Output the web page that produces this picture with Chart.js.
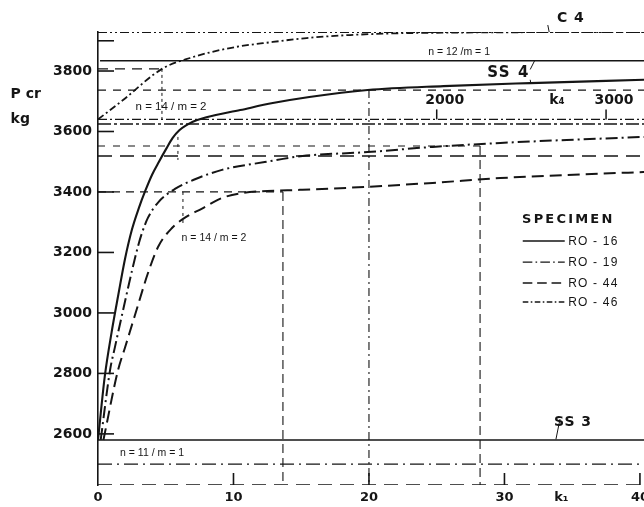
<!DOCTYPE html>
<html>
<head>
<meta charset="utf-8">
<script src="https://cdn.jsdelivr.net/npm/chart.js@4.4.1/dist/chart.umd.min.js"></script>
<style>
  html, body { margin: 0; padding: 0; background: #fff; }
  #wrap { position: relative; width: 644px; height: 507px; }
</style>
</head>
<body>
<div id="wrap"><canvas id="pcr"></canvas></div>
<script>
// axis ranges (k4 rides on the same line as k1, k4 = 80 * k1)
const K1_MAX = 40.3;
const K4_PER_K1 = 80;
const P_MIN = 2431;
const P_MAX = 3929;

// specimen curves, k1 vs Pcr (kg)
const ro16K = [0, 0.5, 1.0, 1.5, 2.0, 2.5, 3.0, 3.5, 4.0, 4.5, 5.0, 5.5, 6.0, 6.5, 7.0, 8.0, 10.5, 12.9, 15.6, 19.9, 25.5, 31.9, 40.3];
const ro16P = [2580, 2790, 2935, 3060, 3180, 3275, 3345, 3405, 3458, 3500, 3540, 3578, 3604, 3620, 3632, 3647, 3671, 3694, 3714, 3737, 3750, 3760, 3771];

const ro19K = [0.2, 0.89, 1.25, 1.77, 2.51, 2.95, 3.25, 3.69, 4.43, 5.68, 7.16, 9.15, 12.3, 15.1, 19.9, 24.7, 29.7, 34.6, 40.3];
const ro19P = [2580, 2811, 2887, 2993, 3140, 3220, 3265, 3315, 3365, 3410, 3442, 3473, 3499, 3519, 3532, 3549, 3562, 3572, 3582];

const ro44K = [0.4, 1.48, 1.99, 2.73, 3.69, 4.43, 5.46, 6.42, 7.68, 9.15, 10.7, 12.5, 14.9, 19.9, 24.7, 29.7, 34.6, 40.3];
const ro44P = [2580, 2811, 2885, 2993, 3132, 3218, 3281, 3315, 3345, 3380, 3397, 3403, 3407, 3417, 3430, 3446, 3456, 3466];

const ro46K = [0, 1.85, 4.72, 6.79, 9.74, 12.9, 15.4, 18.6, 23.8, 40.3];
const ro46P = [3640, 3704, 3807, 3843, 3876, 3896, 3909, 3919, 3926, 3929];

const specimenNames = ['RO - 16', 'RO - 19', 'RO - 44', 'RO - 46'];

// horizontal construction lines: level and k1 extent
const hLineP    = [3929, 3834, 3807, 3737, 3640, 3625, 3552, 3519, 3400, 2580, 2500, 2431];
const hLineFrom = [0, 0.15, 0, 0, 0, 0, 0, 0, 0, 0, 0, 0];
const hLineTo   = [K1_MAX, K1_MAX, 4.72, K1_MAX, K1_MAX, K1_MAX, 28.2, K1_MAX, 13.65, K1_MAX, K1_MAX, K1_MAX];

// vertical construction lines
const vLineK   = [4.72, 5.9, 6.27, 13.65, 20.0, 28.2];
const vLineTop = [3807, 3582, 3400, 3400, 3737, 3552];
const vLineBot = [3640, 3506, 3297, P_MIN, P_MIN, P_MIN];

// ticks
const yLabelVals = [2600, 2800, 3000, 3200, 3400, 3600, 3800];
const yMarkVals = [2600, 2800, 3000, 3200, 3400, 3600, 3800, 3900];
const xLabelVals = [0, 10, 20, 30, 40];
const K1_TITLE_AT = 34.2;
const k4LabelVals = [2000, 3000];
const K4_TITLE_AT = 2710;
const K4_LINE_P = 3640;

const INK = '#151515';

// line styles (kept apart from the values)
const curveStyle = [
  { w: 2.1, dash: [] },
  { w: 2.0, dash: [12, 4, 2, 4] },
  { w: 2.0, dash: [12, 6] },
  { w: 1.8, dash: [7, 3, 2, 3] }
];
const hLineStyle = [
  { w: 1.8, dash: [9, 3, 2, 3, 2, 3] },
  { w: 1.4, dash: [] },
  { w: 1.3, dash: [10, 7] },
  { w: 1.2, dash: [8, 7] },
  { w: 1.3, dash: [9, 3, 2, 3] },
  { w: 1.6, dash: [13, 3, 3, 3] },
  { w: 1.2, dash: [7, 8] },
  { w: 1.6, dash: [14, 8] },
  { w: 1.2, dash: [8, 6] },
  { w: 1.4, dash: [] },
  { w: 1.3, dash: [14, 5, 2, 5] },
  { w: 1.4, dash: [14, 8] }
];
const vLineStyle = [
  { w: 1.0, dash: [3, 3] },
  { w: 1.0, dash: [3, 4] },
  { w: 1.0, dash: [3, 4] },
  { w: 1.1, dash: [9, 5] },
  { w: 1.1, dash: [8, 4, 2, 4] },
  { w: 1.1, dash: [9, 5] }
];

function trace(ks, ps, st, smooth) {
  return {
    data: ks.map((k, i) => ({ x: k, y: ps[i] })),
    borderColor: INK,
    borderWidth: st.w,
    borderDash: st.dash,
    borderCapStyle: 'butt',
    pointRadius: 0,
    showLine: true,
    fill: false,
    cubicInterpolationMode: smooth ? 'monotone' : 'default',
    tension: 0
  };
}

const datasets = [];
hLineP.forEach((p, i) => datasets.push(trace([hLineFrom[i], hLineTo[i]], [p, p], hLineStyle[i], false)));
vLineK.forEach((k, i) => datasets.push(trace([k, k], [vLineTop[i], vLineBot[i]], vLineStyle[i], false)));
const curves = [[ro16K, ro16P], [ro19K, ro19P], [ro44K, ro44P], [ro46K, ro46P]];
curves.forEach((c, i) => datasets.push(trace(c[0], c[1], curveStyle[i], true)));

// text placed in chart units
const notes = [
  { t: 'P cr', k: -6.45, p: 3724, font: 'bold 14px "DejaVu Sans"', align: 'left' },
  { t: 'kg', k: -6.45, p: 3641, font: 'bold 14px "DejaVu Sans"', align: 'left' },
  { t: 'C 4', k: 34.9, p: 3975, font: 'bold 14px "DejaVu Sans"', sp: 1 },
  { t: 'n = 12 /m = 1', k: 26.65, p: 3863, font: '10.5px "Liberation Sans"' },
  { t: 'SS 4', k: 30.3, p: 3793, font: 'bold 15px "DejaVu Sans"', sp: 1.5 },
  { t: 'n = 14 / m = 2', k: 5.39, p: 3681, font: '11.5px "Liberation Sans"' },
  { t: 'n = 14 / m = 2', k: 8.56, p: 3248, font: '10.5px "Liberation Sans"' },
  { t: 'n = 11 / m = 1', k: 3.99, p: 2537, font: '10.5px "Liberation Sans"' },
  { t: 'SS 3', k: 35.06, p: 2639, font: 'bold 14px "DejaVu Sans"', sp: 1 },
  { t: 'SPECIMEN', k: 31.3, p: 3307, font: 'bold 13px "DejaVu Sans"', align: 'left', sp: 2.2 }
];
const legendP = [3238, 3168, 3099, 3036];
const LEGEND_LINE_FROM = 31.35;
const LEGEND_LINE_TO = 34.45;
const LEGEND_TEXT_AT = 34.7;

// little leader strokes [k1, p, k1, p]
const leaders = [
  [31.9, 3805, 32.25, 3836],
  [31.9, 3771, 31.95, 3759],
  [34.1, 2649, 33.8, 2582],
  [33.2, 3952, 33.3, 3929]
];

function seg(ctx, x1, y1, x2, y2) {
  ctx.beginPath();
  ctx.moveTo(x1, y1);
  ctx.lineTo(x2, y2);
  ctx.stroke();
}

const overlay = {
  id: 'overlay',
  afterDatasetsDraw(chart) {
    const { ctx, chartArea: a } = chart;
    const x = chart.scales.x, y = chart.scales.y, k4 = chart.scales.k4;
    ctx.save();
    ctx.strokeStyle = INK;
    ctx.fillStyle = INK;
    ctx.setLineDash([]);

    // inward ticks on the Pcr axis
    ctx.lineWidth = 1.6;
    yMarkVals.forEach(v => {
      const py = y.getPixelForValue(v);
      seg(ctx, a.left, py, a.left + 16, py);
    });
    // upward ticks on k1
    xLabelVals.slice(1).forEach(v => {
      const px = x.getPixelForValue(v);
      seg(ctx, px, a.bottom, px, a.bottom - 12);
    });

    // k4 scale on the dash-dot line
    const pk = y.getPixelForValue(K4_LINE_P);
    ctx.font = 'bold 14px "DejaVu Sans"';
    ctx.textAlign = 'center';
    ctx.textBaseline = 'middle';
    k4LabelVals.forEach(v => {
      const px = k4.getPixelForValue(v);
      ctx.lineWidth = 1.5;
      seg(ctx, px, pk, px, pk - 10);
      ctx.fillText(String(v), px + 8, pk - 19);
    });
    ctx.fillText('k\u2084', k4.getPixelForValue(K4_TITLE_AT), pk - 19);

    // notes
    notes.forEach(n => {
      ctx.font = n.font;
      ctx.letterSpacing = (n.sp || 0) + 'px';
      ctx.textAlign = n.align || 'center';
      ctx.fillText(n.t, x.getPixelForValue(n.k), y.getPixelForValue(n.p));
    });
    ctx.letterSpacing = '0px';

    // leaders
    ctx.lineWidth = 1;
    leaders.forEach(l => seg(ctx, x.getPixelForValue(l[0]), y.getPixelForValue(l[1]),
      x.getPixelForValue(l[2]), y.getPixelForValue(l[3])));

    // specimen key
    ctx.font = '12px "Liberation Sans"';
    ctx.letterSpacing = '1.2px';
    ctx.textAlign = 'left';
    specimenNames.forEach((name, i) => {
      const py = y.getPixelForValue(legendP[i]);
      ctx.lineWidth = 1.4;
      ctx.setLineDash(curveStyle[i].dash.map(d => d * 0.8));
      seg(ctx, x.getPixelForValue(LEGEND_LINE_FROM), py, x.getPixelForValue(LEGEND_LINE_TO), py);
      ctx.setLineDash([]);
      ctx.fillText(name, x.getPixelForValue(LEGEND_TEXT_AT), py + 1);
    });
    ctx.restore();
  }
};

new Chart(document.getElementById('pcr'), {
  type: 'scatter',
  data: { datasets: datasets },
  plugins: [overlay],
  options: {
    responsive: true,
    maintainAspectRatio: false,
    animation: false,
    layout: { padding: { top: 32, right: 0, bottom: 0, left: 0 } },
    plugins: {
      legend: { display: false },
      tooltip: { enabled: false }
    },
    scales: {
      x: {
        type: 'linear',
        position: 'bottom',
        min: 0,
        max: K1_MAX,
        afterBuildTicks: s => { s.ticks = xLabelVals.concat([K1_TITLE_AT]).map(v => ({ value: v })); },
        afterFit: s => { s.height = 22; s.paddingLeft = 0; s.paddingRight = 0; },
        grid: { display: false, drawTicks: false },
        border: { display: false },
        ticks: {
          autoSkip: false,
          maxRotation: 0,
          padding: 5,
          color: INK,
          font: { family: 'DejaVu Sans', weight: 'bold', size: 13 },
          callback: v => (v === K1_TITLE_AT ? 'k\u2081' : String(v))
        }
      },
      k4: {
        type: 'linear',
        axis: 'x',
        position: 'top',
        display: false,
        min: 0,
        max: K1_MAX * K4_PER_K1
      },
      y: {
        type: 'linear',
        min: P_MIN,
        max: P_MAX,
        afterBuildTicks: s => { s.ticks = yLabelVals.map(v => ({ value: v })); },
        afterFit: s => { s.width = 98; s.paddingTop = 0; s.paddingBottom = 0; },
        grid: { display: false, drawTicks: false },
        border: { display: true, color: INK, width: 1.6 },
        ticks: {
          padding: 6,
          color: INK,
          font: { family: 'DejaVu Sans', weight: 'bold', size: 14 },
          callback: v => String(v)
        }
      }
    }
  }
});
</script>
</body>
</html>
